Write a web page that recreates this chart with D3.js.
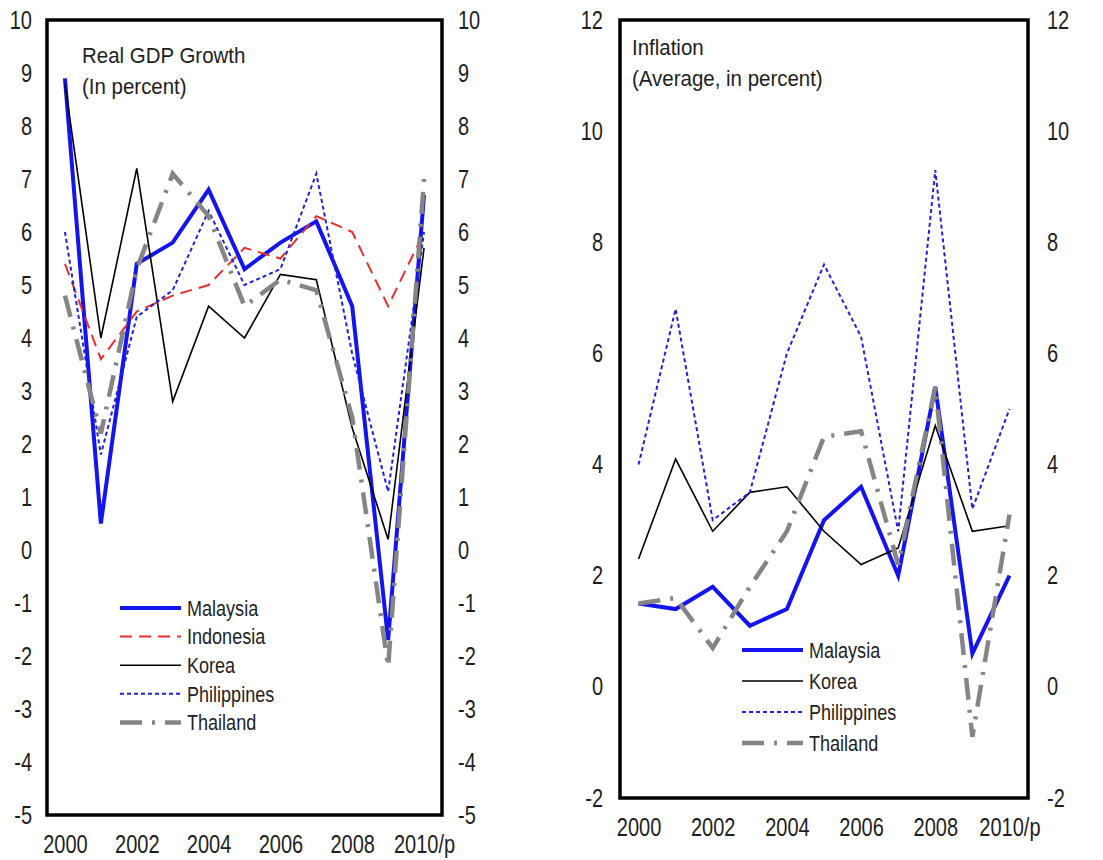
<!DOCTYPE html>
<html>
<head>
<meta charset="utf-8">
<script src="https://cdn.jsdelivr.net/npm/d3@7"></script>
<style>
  body { margin: 0; background: #fff; }
  svg { display: block; }
</style>
</head>
<body>
<svg id="chart" width="1103" height="860"></svg>
<script>
// data
const years = [2000, 2001, 2002, 2003, 2004, 2005, 2006, 2007, 2008, 2009, 2010];
const yearTicks = [2000, 2002, 2004, 2006, 2008, 2010];
const yearLabels = ["2000", "2002", "2004", "2006", "2008", "2010/p"];

// real GDP growth, percent
const gdpMalaysia    = [8.9, 0.5, 5.4, 5.8, 6.8, 5.3, 5.8, 6.2, 4.6, -1.7, 6.7];
const gdpIndonesia   = [5.4, 3.6, 4.5, 4.8, 5.0, 5.7, 5.5, 6.3, 6.0, 4.6, 6.0];
const gdpKorea       = [8.8, 4.0, 7.2, 2.8, 4.6, 4.0, 5.2, 5.1, 2.3, 0.2, 5.7];
const gdpPhilippines = [6.0, 1.8, 4.4, 4.9, 6.4, 5.0, 5.3, 7.1, 3.7, 1.1, 6.0];
const gdpThailand    = [4.8, 2.2, 5.3, 7.1, 6.3, 4.6, 5.1, 4.9, 2.5, -2.2, 7.0];
const gdpTicks = [-5, -4, -3, -2, -1, 0, 1, 2, 3, 4, 5, 6, 7, 8, 9, 10];

// inflation, average, percent
const infMalaysia    = [1.5, 1.4, 1.8, 1.1, 1.4, 3.0, 3.6, 2.0, 5.4, 0.6, 2.0];
const infKorea       = [2.3, 4.1, 2.8, 3.5, 3.6, 2.8, 2.2, 2.5, 4.7, 2.8, 2.9];
const infPhilippines = [4.0, 6.8, 3.0, 3.5, 6.0, 7.6, 6.3, 2.8, 9.3, 3.2, 5.0];
const infThailand    = [1.5, 1.6, 0.7, 1.8, 2.8, 4.5, 4.6, 2.2, 5.4, -0.9, 3.1];
const infTicks = [-2, 0, 2, 4, 6, 8, 10, 12];

// line styles per country
const styles = {
  Malaysia:    { color: "#1414f0", width: 4,   dash: null },
  Indonesia:   { color: "#e8302c", width: 2,   dash: "12,7" },
  Korea:       { color: "#000000", width: 1.6, dash: null },
  Philippines: { color: "#2222d4", width: 2,   dash: "4,3" },
  Thailand:    { color: "#858585", width: 4.5, dash: "22,10,3,10" }
};

const svg = d3.select("#chart");
const font = "'Liberation Sans', Arial, sans-serif";
const textColor = "#1e1e1e";

// squeeze text horizontally, the original uses a narrow face
function narrow(sel, k) {
  sel.each(function () {
    const w = this.getComputedTextLength();
    d3.select(this).attr("textLength", w * k).attr("lengthAdjust", "spacingAndGlyphs");
  });
}

function drawPanel(p) {
  const x = d3.scaleLinear().domain([1999.5, 2010.5]).range([p.x0, p.x1]);
  const y = d3.scaleLinear().domain(p.yDomain).range([p.y1, p.y0]);
  const g = svg.append("g");

  // axes (labels only)
  const left = g.append("g").attr("transform", `translate(${p.x0},0)`)
    .call(d3.axisLeft(y).tickValues(p.ticks).tickSize(0).tickPadding(p.padL).tickFormat(d => String(d)));
  const right = g.append("g").attr("transform", `translate(${p.x1},0)`)
    .call(d3.axisRight(y).tickValues(p.ticks).tickSize(0).tickPadding(p.padR).tickFormat(d => String(d)));
  const bottom = g.append("g").attr("transform", `translate(0,${p.y1})`)
    .call(d3.axisBottom(x).tickValues(yearTicks).tickSize(0).tickPadding(20)
      .tickFormat((d, i) => yearLabels[i]));
  [left, right, bottom].forEach(a => {
    a.select(".domain").remove();
    a.attr("font-family", font).attr("font-size", 25);
    a.selectAll("text").attr("fill", textColor).call(narrow, 0.8);
  });

  // lines
  const line = d3.line().x((d, i) => x(years[i])).y(d => y(d));
  p.series.forEach(s => {
    const st = styles[s.name];
    g.append("path")
      .datum(s.values)
      .attr("d", line)
      .attr("fill", "none")
      .attr("stroke", st.color)
      .attr("stroke-width", st.width)
      .attr("stroke-dasharray", st.dash)
      .attr("stroke-linejoin", "miter");
  });

  // frame
  g.append("rect")
    .attr("x", p.x0).attr("y", p.y0)
    .attr("width", p.x1 - p.x0).attr("height", p.y1 - p.y0)
    .attr("fill", "none").attr("stroke", "#000").attr("stroke-width", 3.5);

  // title
  p.title.forEach((t, i) => {
    g.append("text")
      .attr("x", p.titleX).attr("y", p.titleY + i * 31)
      .attr("font-family", font).attr("font-size", 22)
      .attr("fill", textColor)
      .text(t)
      .call(narrow, 0.93);
  });

  // legend
  p.series.forEach((s, i) => {
    const st = styles[s.name];
    const ly = p.legY + i * p.legStep;
    g.append("line")
      .attr("x1", p.legX).attr("x2", p.legX + 61)
      .attr("y1", ly).attr("y2", ly)
      .attr("stroke", st.color)
      .attr("stroke-width", st.width)
      .attr("stroke-dasharray", st.dash);
    g.append("text")
      .attr("x", p.legX + 67).attr("y", ly)
      .attr("dy", "0.35em")
      .attr("font-family", font).attr("font-size", 22)
      .attr("fill", textColor)
      .text(s.name)
      .call(narrow, 0.82);
  });
}

drawPanel({
  x0: 47, x1: 442, y0: 20, y1: 815,
  yDomain: [-5, 10], ticks: gdpTicks, padL: 15, padR: 16,
  title: ["Real GDP Growth", "(In percent)"], titleX: 82, titleY: 63,
  legX: 120, legY: 608, legStep: 28.6,
  series: [
    { name: "Malaysia", values: gdpMalaysia },
    { name: "Indonesia", values: gdpIndonesia },
    { name: "Korea", values: gdpKorea },
    { name: "Philippines", values: gdpPhilippines },
    { name: "Thailand", values: gdpThailand }
  ]
});

drawPanel({
  x0: 620, x1: 1028, y0: 20, y1: 798,
  yDomain: [-2, 12], ticks: infTicks, padL: 17, padR: 19,
  title: ["Inflation", "(Average, in percent)"], titleX: 632, titleY: 55,
  legX: 742, legY: 650, legStep: 31,
  series: [
    { name: "Malaysia", values: infMalaysia },
    { name: "Korea", values: infKorea },
    { name: "Philippines", values: infPhilippines },
    { name: "Thailand", values: infThailand }
  ]
});
</script>
</body>
</html>
